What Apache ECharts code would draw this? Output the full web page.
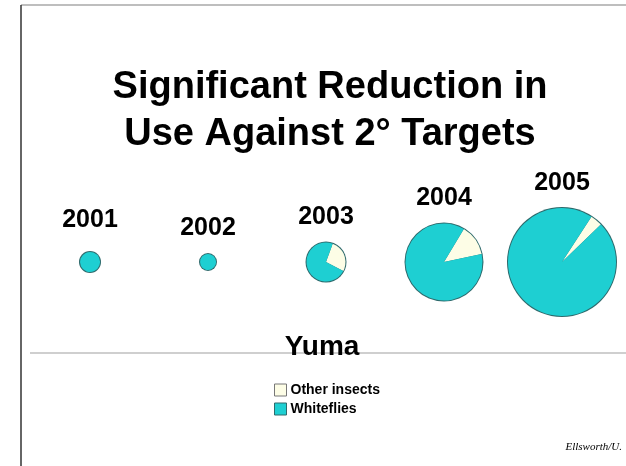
<!DOCTYPE html>
<html>
<head>
<meta charset="utf-8">
<script src="https://cdn.jsdelivr.net/npm/echarts@6/dist/echarts.min.js"></script>
<style>
html,body{margin:0;padding:0;background:#fff;}
#c{width:626px;height:466px;}
</style>
</head>
<body>
<div id="c"></div>
<script>
// ---- data ----
const years = ['2001', '2002', '2003', '2004', '2005'];
const whiteflies = [100, 64, 277, 1289, 2811];
const otherInsects = [0, 0, 103, 193, 105];
const seriesNames = ['Other insects', 'Whiteflies'];
const titleLines = ['Significant Reduction in', 'Use Against 2° Targets'];
const regionName = 'Yuma';
const credit = 'Ellsworth/U.';

// ---- layout / style ----
const colors = { 'Other insects': '#fdfde6', 'Whiteflies': '#1ecfd2' };
const outline = '#2e6a6c';
const cx0 = 90, dx = 118, cy = 262;
const startAngles = [70, 70, 70, 59, 57];
const labelY = [220, 228, 217, 198, 183];

const chart = echarts.init(document.getElementById('c'), null, { renderer: 'canvas' });

const series = [];
years.forEach((y, i) => {
  const total = whiteflies[i] + otherInsects[i];
  const r = Math.sqrt(total);
  const cx = cx0 + i * dx;
  // outline disc
  series.push({
    type: 'pie', silent: true, z: 1,
    center: [cx, cy], radius: [0, r + 1],
    label: { show: false }, labelLine: { show: false },
    emphasis: { disabled: true }, animation: false,
    data: [{ name: '_outline' + y, value: total, itemStyle: { color: outline } }]
  });
  const data = [];
  if (otherInsects[i] > 0) data.push({ name: seriesNames[0], value: otherInsects[i], itemStyle: { color: colors[seriesNames[0]] } });
  data.push({ name: seriesNames[1], value: whiteflies[i], itemStyle: { color: colors[seriesNames[1]] } });
  series.push({
    type: 'pie', z: 2, name: y,
    center: [cx, cy], radius: [0, r],
    startAngle: startAngles[i], clockwise: true,
    label: { show: false }, labelLine: { show: false },
    emphasis: { disabled: true }, animation: false,
    itemStyle: { borderWidth: 0 },
    data: data
  });
});

const graphics = [
  { type: 'line', shape: { x1: 21, y1: 5, x2: 626, y2: 5 }, style: { stroke: '#a8a8a8', lineWidth: 1.5 } },
  { type: 'line', shape: { x1: 21, y1: 5, x2: 21, y2: 466 }, style: { stroke: '#333', lineWidth: 1.5 } },
  { type: 'line', shape: { x1: 30, y1: 353, x2: 626, y2: 353 }, style: { stroke: '#cfcfcf', lineWidth: 2 }, z: 0 },
  { type: 'text', x: 330, y: 88, style: { text: titleLines[0], textAlign: 'center', textVerticalAlign: 'middle', font: 'bold 38px "Liberation Sans", Arial, sans-serif', fill: '#000' } },
  { type: 'text', x: 330, y: 135, style: { text: titleLines[1], textAlign: 'center', textVerticalAlign: 'middle', font: 'bold 38px "Liberation Sans", Arial, sans-serif', fill: '#000' } },
  { type: 'text', x: 322, y: 347, z: 10, style: { text: regionName, textAlign: 'center', textVerticalAlign: 'middle', font: 'bold 28px "Liberation Sans", Arial, sans-serif', fill: '#000' } },
  { type: 'text', x: 622, y: 447, style: { text: credit, textAlign: 'right', textVerticalAlign: 'middle', font: 'italic 11px "Liberation Serif", "Times New Roman", serif', fill: '#000' } }
];
years.forEach((y, i) => {
  graphics.push({ type: 'text', x: cx0 + i * dx, y: labelY[i], style: { text: y, textAlign: 'center', textVerticalAlign: 'middle', font: 'bold 25px "Liberation Sans", Arial, sans-serif', fill: '#000' } });
});

chart.setOption({
  animation: false,
  backgroundColor: '#fff',
  legend: {
    orient: 'vertical', left: 269, top: 378, itemGap: 5,
    itemWidth: 12, itemHeight: 12, icon: 'rect',
    selectedMode: false,
    textStyle: { fontFamily: '"Liberation Sans", Arial, sans-serif', fontWeight: 'bold', fontSize: 14, color: '#000', padding: [0, 0, 0, -1] },
    data: [
      { name: seriesNames[0], itemStyle: { color: colors[seriesNames[0]], borderColor: '#777', borderWidth: 1 } },
      { name: seriesNames[1], itemStyle: { color: colors[seriesNames[1]], borderColor: '#2e6a6c', borderWidth: 1 } }
    ]
  },
  series: series,
  graphic: graphics
});
</script>
</body>
</html>
